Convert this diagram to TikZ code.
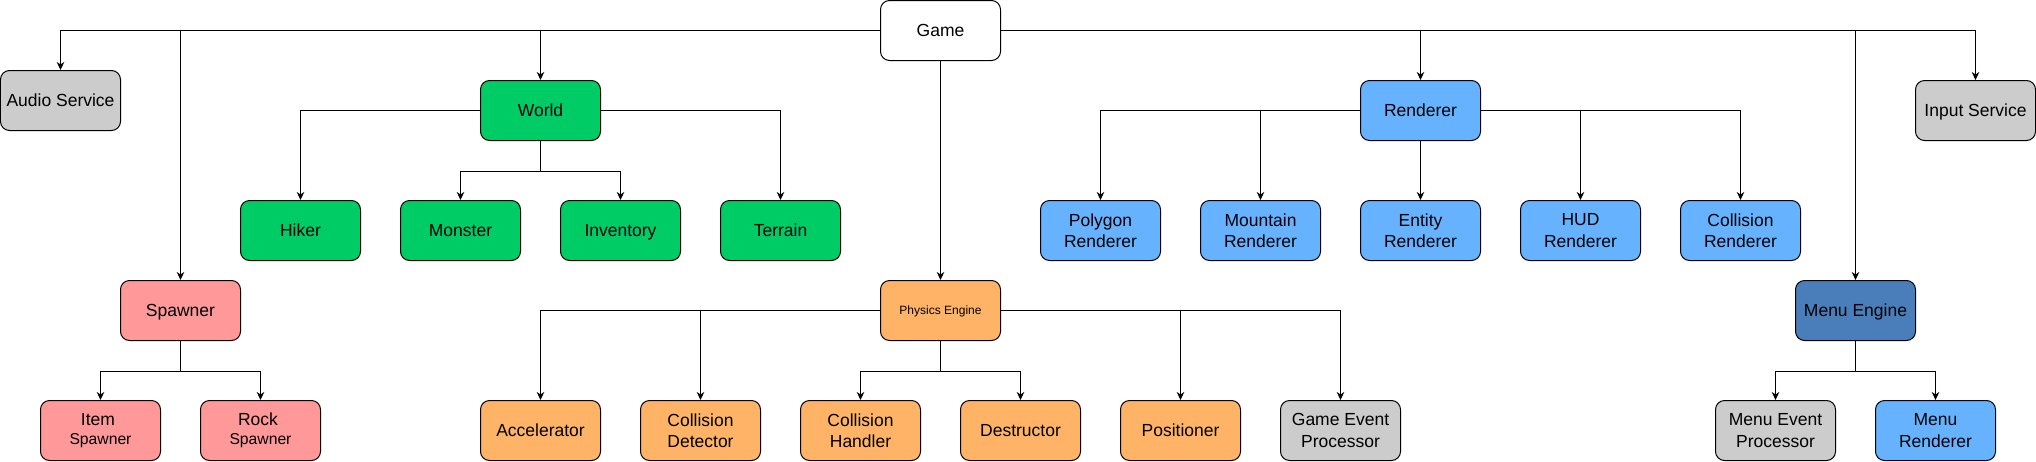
\documentclass[tikz,border=0pt]{standalone}
\usepackage{fontspec}
\setmainfont{Liberation Sans}
\usetikzlibrary{arrows.meta}
\definecolor{cgrey}{HTML}{CCCCCC}
\definecolor{cgreen}{HTML}{00CC66}
\definecolor{cpink}{HTML}{FF9999}
\definecolor{corange}{HTML}{FFB366}
\definecolor{cblue}{HTML}{66B2FF}
\definecolor{cmenu}{HTML}{4A7EBB}
\newcommand{\mainfs}{\fontsize{17.5}{21.5}\selectfont}
\newcommand{\subfs}{\fontsize{15.7}{18.5}\selectfont}
\newcommand{\smallfs}{\fontsize{12}{14}\selectfont}
\tikzset{
  box/.style={draw=black, line width=1pt, rounded corners=9pt,
    minimum width=120pt, minimum height=60pt, inner sep=0pt,
    align=center, font=\mainfs, text=black},
  one/.style={box, text height=16pt, text depth=3.4pt},
  arr/.style={line width=1pt, draw=black,
    -{Stealth[length=8pt,width=7.5pt,inset=2.5pt]}},
  ln/.style={line width=1pt, draw=black}
}
\begin{document}
\begin{tikzpicture}[x=1pt,y=-1pt]
\useasboundingbox (-0.5,-0.5) rectangle (2035.5,460.5);
% top
\node[one, fill=white] (game) at (940,30) {Game};
\node[one, fill=cgrey] (audio) at (60,100) {Audio Service};
\node[one, fill=cgreen] (world) at (540,110) {World};
\node[one, fill=cblue] (renderer) at (1420,110) {Renderer};
\node[one, fill=cgrey] (input) at (1975,110) {Input Service};
% row 2
\node[one, fill=cgreen] (hiker) at (300,230) {Hiker};
\node[one, fill=cgreen] (monster) at (460,230) {Monster};
\node[one, fill=cgreen] (inventory) at (620,230) {Inventory};
\node[one, fill=cgreen] (terrain) at (780,230) {Terrain};
\node[box, fill=cblue] (polygon) at (1100,230) {Polygon\\Renderer};
\node[box, fill=cblue] (mountain) at (1260,230) {Mountain\\Renderer};
\node[box, fill=cblue] (entity) at (1420,230) {Entity\\Renderer};
\node[box, fill=cblue] (hud) at (1580,230) {HUD\\Renderer};
\node[box, fill=cblue] (collrend) at (1740,230) {Collision\\Renderer};
% row 3
\node[one, fill=cpink] (spawner) at (180,310) {Spawner};
\node[box, fill=corange, font=\smallfs, text height=11pt, text depth=2.4pt] (physics) at (940,310) {Physics Engine};
\node[one, fill=cmenu] (menu) at (1855,310) {Menu Engine};
% row 4
\node[box, fill=cpink] (item) at (100,430) {Item\hspace*{5pt}\\[-2pt]{\subfs Spawner}};
\node[box, fill=cpink] (rock) at (260,430) {Rock\hspace*{5pt}\\[-2pt]{\subfs Spawner}};
\node[one, fill=corange] (accel) at (540,430) {Accelerator};
\node[box, fill=corange] (colldet) at (700,430) {Collision\\Detector};
\node[box, fill=corange] (collhand) at (860,430) {Collision\\Handler};
\node[one, fill=corange] (destr) at (1020,430) {Destructor};
\node[one, fill=corange] (posit) at (1180,430) {Positioner};
\node[box, fill=cgrey] (gameevent) at (1340,430) {Game Event\\Processor};
\node[box, fill=cgrey] (menuevent) at (1775,430) {Menu Event\\Processor};
\node[box, fill=cblue] (menurend) at (1935,430) {Menu\\Renderer};
% connectors from Game
\draw[arr] (game.west) -| (audio.north);
\draw[arr] (game.west) -| (spawner.north);
\draw[arr] (game.west) -| (world.north);
\draw[arr] (game.south) -- (physics.north);
\draw[arr] (game.east) -| (renderer.north);
\draw[arr] (game.east) -| (menu.north);
\draw[arr] (game.east) -| (input.north);
% World
\draw[arr] (world.west) -| (hiker.north);
\draw[arr] (world.south) -- ++(0,30) -| (monster.north);
\draw[arr] (world.south) -- ++(0,30) -| (inventory.north);
\draw[arr] (world.east) -| (terrain.north);
% Renderer
\draw[arr] (renderer.west) -| (polygon.north);
\draw[arr] (renderer.west) -| (mountain.north);
\draw[arr] (renderer.south) -- (entity.north);
\draw[arr] (renderer.east) -| (hud.north);
\draw[arr] (renderer.east) -| (collrend.north);
% Spawner
\draw[arr] (spawner.south) -- ++(0,30) -| (item.north);
\draw[arr] (spawner.south) -- ++(0,30) -| (rock.north);
% Physics
\draw[arr] (physics.west) -| (accel.north);
\draw[arr] (physics.west) -| (colldet.north);
\draw[arr] (physics.south) -- ++(0,30) -| (collhand.north);
\draw[arr] (physics.south) -- ++(0,30) -| (destr.north);
\draw[arr] (physics.east) -| (posit.north);
\draw[arr] (physics.east) -| (gameevent.north);
% Menu
\draw[arr] (menu.south) -- ++(0,30) -| (menuevent.north);
\draw[arr] (menu.south) -- ++(0,30) -| (menurend.north);
\end{tikzpicture}
\end{document}
